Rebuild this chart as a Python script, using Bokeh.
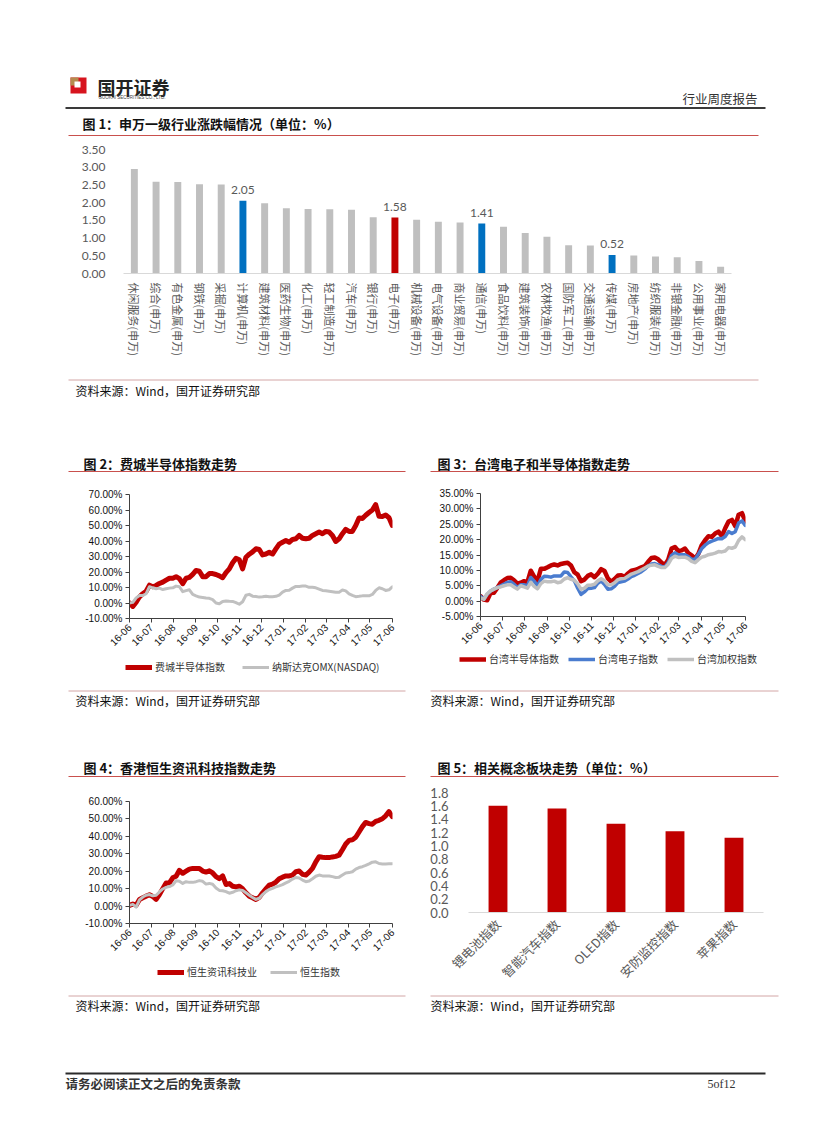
import math
import pandas as pd
from bokeh.plotting import figure
from bokeh.layouts import column, row
from bokeh.models import (Plot, Range1d, FactorRange, ColumnDataSource, LabelSet, Legend, LegendItem,
                          SingleIntervalTicker, MonthsTicker, PrintfTickFormatter,
                          NumeralTickFormatter, DatetimeTickFormatter)
from bokeh.core.properties import value
from bokeh.embed import file_html
from bokeh.resources import INLINE

CJK = "Noto Sans CJK SC"
NUM = "Lato"
ARIAL = "Liberation Sans"
FA = {"frame_align": False} if "frame_align" in Plot.properties() else {}

# ---------------- data ----------------
industries = ["休闲服务", "综合", "有色金属", "钢铁", "采掘", "计算机", "建筑材料", "医药生物", "化工",
              "轻工制造", "汽车", "银行", "电子", "机械设备", "电气设备", "商业贸易", "通信", "食品饮料",
              "建筑装饰", "农林牧渔", "国防军工", "交通运输", "传媒", "房地产", "纺织服装", "非银金融",
              "公用事业", "家用电器"]
industry_change = [2.95, 2.59, 2.58, 2.52, 2.51, 2.05, 1.98, 1.84, 1.82, 1.81, 1.80, 1.59, 1.58, 1.52,
                   1.46, 1.44, 1.41, 1.32, 1.14, 1.04, 0.80, 0.79, 0.52, 0.51, 0.48, 0.46, 0.35, 0.19]
blue_industries = ["计算机", "通信", "传媒"]
red_industries = ["电子"]

period_start = "2016-06-01"
period_end = "2017-06-01"

sox = [0, -2.2, 0.5, 4, 6, 7.6, 11.5, 10.5, 11.3, 12.6, 13.5, 14.8, 16, 16, 17, 15.7, 12.5, 16, 16.5, 18.5,
       21, 20.5, 17, 17, 19, 19, 18.4, 17.5, 16.3, 19.6, 22, 26, 28.8, 27.9, 22, 29.5, 31.5, 33, 35, 34.5,
       31, 31.6, 32.7, 31.6, 34.9, 38, 39.2, 40.3, 39.2, 41, 41.4, 43.6, 41.8, 41.4, 41.8, 43.6, 44.7, 45.8,
       44.7, 46.2, 45.8, 43.6, 39.7, 41.4, 44.7, 47.5, 46.2, 46.2, 50, 54.9, 54.5, 56.6, 58.4, 60, 63.5, 56,
       55.8, 56.8, 55, 50]
nasdaq = [0, 0.4, 3.3, 4.8, 4.8, 6, 10.5, 9.8, 9.2, 9.6, 8.7, 9.2, 9.6, 9.8, 10.9, 10.5, 7.3, 8, 8.5, 5.5,
          4.6, 3.8, 3.6, 3.2, 3, 2.2, 0, -0.5, 1, 1.3, 1.1, 1, 0.2, -0.8, 0.8, 5, 5.6, 4.4, 4.2, 3.8,
          4, 4.4, 4.1, 4.1, 4.3, 5.1, 7, 8.1, 8.2, 9.6, 10.7, 10.7, 10.9, 10.9, 10.1, 10.1, 9.8, 9, 8.1, 7.9,
          7.6, 7.3, 7, 7, 8.4, 7.8, 5.9, 4.9, 4.1, 4.3, 4.6, 4.6, 4.6, 5.5, 8.1, 9.8, 9.2, 8.1, 8.5, 10.5]

tw_semi = [1.6, 0.5, 0.3, 2.6, 2.7, 4.3, 6, 6.8, 7.5, 7.6, 6.8, 5.7, 6, 6.5, 6.2, 9.9, 8, 6.5, 10.5, 10.5,
           11, 11.6, 11.9, 11.6, 12.1, 12.3, 12.5, 11.6, 9.4, 8.6, 6.5, 7, 8.2, 8.7, 7.8, 8.9, 10.4, 9.8, 7.4, 6.3,
           7.2, 8.3, 8.4, 7.9, 9, 9.9, 10.1, 10.5, 11, 11.4, 12.8, 14, 14.2, 13.6, 12.5, 11.8, 13.5, 17.1, 17.6, 16.3,
           16.5, 17.1, 15.6, 14.9, 13.8, 15.4, 18.2, 19.8, 21.1, 20.9, 22, 22.6, 21.1, 23.7, 25.9, 26.4, 24.4, 28.1,
           28.6, 26]
tw_elec = [1.6, 0.6, 2.2, 3.3, 3.9, 4.4, 5, 5.5, 6.1, 6.3, 5.5, 4.4, 5.3, 5.3, 5, 7.7, 6.5, 5, 7, 8.1,
           8, 7.8, 8.2, 8.2, 8.2, 9.5, 9.3, 7.9, 6.6, 4.2, 2.2, 3, 4.1, 4.2, 4.4, 5.8, 6.5, 5.4, 3.9, 4,
           4.8, 6, 6.3, 6.5, 7.2, 8, 8.4, 9, 9.6, 10.4, 11.4, 12.1, 12.2, 11.8, 11.3, 11.1, 12.5, 14.9, 15.7, 15.1,
           15.1, 15.1, 14.5, 13.6, 13.6, 15.3, 17.1, 18.2, 19, 19.5, 19.9, 20.4, 20.3, 21, 22.6, 22, 22.6, 25.4,
           26.1, 24.6]
taiex = [1.1, 0.6, 2.4, 3.3, 3.9, 4.4, 4.6, 5, 5.3, 5.3, 4.6, 3.9, 5, 4.6, 4.2, 6.1, 4.8, 4, 5.7, 6.5,
         6.3, 6.3, 6.5, 6, 6.2, 7.2, 7.6, 7.1, 6.8, 5.6, 3.8, 4.2, 5.2, 5.2, 5.5, 6.6, 7.3, 6.6, 5.3, 5.3,
         6, 7, 7.3, 7.4, 8.1, 8.8, 9.2, 9.6, 10.2, 10.8, 11.4, 11.7, 11.8, 11.3, 10.9, 10.9, 12, 13.9, 14.6, 14.2,
         14.3, 14.3, 13.8, 12.9, 12.5, 13.5, 14.3, 14.6, 15.1, 15.3, 15.6, 16.1, 16, 16.3, 17.4, 17.2, 17.6, 19.7,
         20.9, 20]

hs_it = [0.4, 1.2, 0.5, 3.8, 4.8, 5.7, 6.5, 5.5, 3.8, 6.6, 10, 13.3, 13.3, 16.2, 17.1, 20.5, 18.8, 20, 21.2, 21.6,
         21.6, 21.6, 20.1, 19.5, 20.2, 19, 16.9, 15.7, 17.3, 12.4, 12.9, 11.4, 11, 11.4, 9.9, 7.6, 5.7, 4.8, 3.8, 5,
         7.6, 9.8, 12, 12.6, 13.8, 15.7, 16.6, 17.3, 17.3, 17.8, 19.7, 20.1, 18.2, 17.8, 19.5, 21.6, 25.4, 28.3, 28,
         27.8, 27.8, 28.2, 28.5, 29.2, 32.3, 35.6, 37.7, 38, 39.5, 42.5, 45.6, 48, 47.3, 47, 48.6, 49.2, 50.1, 51.8,
         54.2, 51.3]
hsi = [0.4, 1, -0.6, 3.5, 5.2, 6.2, 6.6, 5.9, 6.2, 8.1, 9.8, 10.7, 11.2, 12.1, 14.5, 14.3, 13, 14, 13.6, 13.6,
       14, 14.6, 14.2, 12.6, 13, 12.5, 10.4, 9, 8.8, 8.3, 7.4, 7.9, 8.8, 9.3, 9, 7.6, 6.2, 4.9, 3.8, 4.5,
       6.6, 8.3, 9.5, 10.2, 11, 11.6, 12.3, 13.3, 14.2, 15.5, 16.4, 16.1, 14.9, 14, 14.4, 15.7, 17.1, 17.8, 17.3,
       17.3, 17.3, 16.9, 16.4, 16.6, 17.8, 19, 19.2, 19.7, 21.2, 22.1, 22.6, 23.3, 24.2, 25.2, 25.4, 24.4, 24.2,
       24.2, 24.3, 24.3]

concepts = ["锂电池指数", "智能汽车指数", "OLED指数", "安防监控指数", "苹果指数"]
concept_change = [1.60, 1.56, 1.33, 1.22, 1.12]

# ---------------- styles ----------------
RED = "#c00000"
BLUE_BAR = "#0070c0"
GRAY_BAR = "#bfbfbf"
LINE_BLUE = "#4a7ccf"
LINE_GRAY = "#c0c0c0"
TITLE_RULE = "#c9504d"
BOTTOM_RULE = "#d3a6a6"
PAGE_W = 811


def strip(y0, y1, width=PAGE_W):
    p = figure(width=width, height=y1 - y0, x_range=Range1d(0, width), y_range=Range1d(y1, y0),
               output_backend="svg", toolbar_location=None, x_axis_type=None, y_axis_type=None,
               title=None, min_border=0, outline_line_color=None, **FA)
    return p


def txt(p, x, y, s, size, bold=False, color="#111111", align="left", font=CJK):
    p.text(x=[x], y=[y], text=[s], text_font=value(font), text_font_size=value(f"{size}px"),
           text_font_style="bold" if bold else "normal", text_color=color,
           text_align=align, text_baseline="middle")


def rule(p, x0, x1, y, color, w=1.0):
    p.segment(x0=[x0], x1=[x1], y0=[y], y1=[y], line_color=color, line_width=w)


# ---------------- header ----------------
hdr = strip(0, 140)
hdr.quad(left=[70], right=[86], top=[77], bottom=[93], fill_color="#d7141e", line_color=None)
hdr.quad(left=[70], right=[78], top=[77], bottom=[85], fill_color="#b58b4e", line_color=None)
hdr.quad(left=[74], right=[80], top=[81], bottom=[87], fill_color="#ffffff", line_color=None)
txt(hdr, 97, 86, "国开证券", 18, bold=True, color="#222222")
txt(hdr, 98, 96.5, "GUOKAI SECURITIES CO., LTD.", 4.5, color="#444444", font=ARIAL)
txt(hdr, 757, 98, "行业周度报告", 12.5, color="#333333", align="right")
rule(hdr, 65, 765, 107.5, "#3a3a3a", 2)
txt(hdr, 82, 123, "图 1：申万一级行业涨跌幅情况（单位：%）", 13, bold=True)
rule(hdr, 68, 758, 135, TITLE_RULE, 1)

# ---------------- chart 1 ----------------
cat_labels = [n + "(申万)" for n in industries]
colors1 = [RED if n in red_industries else BLUE_BAR if n in blue_industries else GRAY_BAR for n in industries]
labels1 = [f"{v:.2f}" if (n in red_industries or n in blue_industries) else ""
           for n, v in zip(industries, industry_change)]
src1 = ColumnDataSource(dict(cat=cat_labels, val=industry_change, color=colors1, label=labels1))

p1 = figure(width=PAGE_W, height=236, x_range=FactorRange(factors=cat_labels), y_range=Range1d(0, 3.5),
            output_backend="svg", toolbar_location=None, title=None,
            min_border_left=123, min_border_right=80, min_border_top=9, min_border_bottom=103,
            outline_line_color=None, **FA)
p1.vbar(x="cat", top="val", width=0.32, fill_color="color", line_color=None, source=src1)
p1.add_layout(LabelSet(x="cat", y="val", text="label", source=src1, y_offset=7, text_align="center",
                       text_baseline="bottom", text_font=value(NUM), text_font_size=value("12px"),
                       text_color="#595959"))
p1.xgrid.grid_line_color = None
p1.ygrid.grid_line_color = None
p1.yaxis.ticker = SingleIntervalTicker(interval=0.5)
p1.yaxis.formatter = NumeralTickFormatter(format="0.00")
p1.yaxis.axis_line_color = None
p1.yaxis.major_tick_line_color = None
p1.yaxis.minor_tick_line_color = None
p1.yaxis.major_label_standoff = 12
p1.yaxis.major_label_text_font = NUM
p1.yaxis.major_label_text_font_size = "12px"
p1.yaxis.major_label_text_color = "#595959"
p1.xaxis.axis_line_color = "#d9d9d9"
p1.xaxis.major_tick_line_color = None
p1.xaxis.major_label_orientation = "vertical"
p1.xaxis.major_label_standoff = 3
p1.xaxis.major_label_text_font = CJK
p1.xaxis.major_label_text_font_size = "11px"
p1.xaxis.major_label_text_color = "#595959"

# ---------------- strip 2 ----------------
s2 = strip(376, 482)
rule(s2, 68, 758, 379.5, BOTTOM_RULE, 1)
txt(s2, 75, 390, "资料来源：Wind，国开证券研究部", 12)
txt(s2, 83, 463, "图 2：费城半导体指数走势", 13, bold=True)
txt(s2, 437, 463, "图 3：台湾电子和半导体指数走势", 13, bold=True)
rule(s2, 68, 405, 471, TITLE_RULE, 1)
rule(s2, 430, 778, 471, TITLE_RULE, 1)


# ---------------- line charts ----------------
def line_chart(width, height, borders, yrange, yint, series, legend_height, legend_loc, legend_spacing):
    l, r, t, b = borders
    x0 = pd.Timestamp(period_start)
    x1 = pd.Timestamp(period_end) + pd.Timedelta(hours=6)
    p = figure(width=width, height=height, x_axis_type="datetime", x_range=Range1d(x0, x1),
               y_range=Range1d(*yrange), output_backend="svg", toolbar_location=None, title=None,
               min_border_left=l, min_border_right=r, min_border_top=t, min_border_bottom=b,
               outline_line_color=None, **FA)
    for name, vals, color, lw in series:
        dates = pd.date_range(period_start, period_end, periods=len(vals))
        p.line(dates, vals, line_color=color, line_width=lw, line_join="round", line_cap="round")
    p.xgrid.grid_line_color = None
    p.ygrid.grid_line_color = None
    p.yaxis.ticker = SingleIntervalTicker(interval=yint)
    p.yaxis.formatter = PrintfTickFormatter(format="%.2f%%")
    p.xaxis.ticker = MonthsTicker(months=list(range(12)))
    p.xaxis.formatter = DatetimeTickFormatter(months="%y-%m", days="%y-%m")
    p.xaxis.major_label_orientation = math.pi / 4
    for ax in (p.xaxis, p.yaxis):
        ax.axis_line_color = "#404040"
        ax.major_tick_line_color = "#404040"
        ax.major_tick_out = 4
        ax.major_tick_in = 0
        ax.minor_tick_line_color = None
        ax.major_label_text_font = ARIAL
        ax.major_label_text_font_size = "10px"
        ax.major_label_text_color = "#111111"
        ax.major_label_standoff = 3

    # legend strip beneath the chart; proxy lines sit outside its visible range
    lf = figure(width=width, height=legend_height, x_range=Range1d(0, 1), y_range=Range1d(0, 1),
                output_backend="svg", toolbar_location=None, x_axis_type=None, y_axis_type=None,
                title=None, min_border=0, outline_line_color=None, **FA)
    items = []
    for name, vals, color, lw in series:
        rr = lf.line(x=[5, 6], y=[5, 6], line_color=color, line_width=lw, line_cap="butt")
        items.append(LegendItem(label=name, renderers=[rr]))
    lg = Legend(items=items, location=legend_loc, orientation="horizontal", spacing=legend_spacing,
                padding=0, margin=0, glyph_width=27, glyph_height=12, label_height=12,
                label_standoff=3, label_text_font=CJK, label_text_font_size="10px",
                label_text_color="#333333", border_line_color=None, background_fill_alpha=0)
    lf.add_layout(lg)
    return column(p, lf)


c2 = line_chart(419, 170, (129, 27, 12, 34), (-10, 70), 10,
                [("费城半导体指数", sox, RED, 5), ("纳斯达克OMX(NASDAQ)", nasdaq, LINE_GRAY, 3)],
                36, (125, 14), 17)
c3 = line_chart(392, 168, (61, 66, 11, 34), (-5, 35), 5,
                [("台湾半导体指数", tw_semi, RED, 4.5), ("台湾电子指数", tw_elec, LINE_BLUE, 3.5),
                 ("台湾加权指数", taiex, LINE_GRAY, 3.5)],
                38, (40, 22), 9)

# ---------------- strip 3 ----------------
s3 = strip(688, 784)
rule(s3, 68, 405, 690.5, BOTTOM_RULE, 1)
rule(s3, 430, 778, 690.5, BOTTOM_RULE, 1)
txt(s3, 75, 700, "资料来源：Wind，国开证券研究部", 12)
txt(s3, 430, 700, "资料来源：Wind，国开证券研究部", 12)
txt(s3, 83, 767, "图 4：香港恒生资讯科技指数走势", 13, bold=True)
txt(s3, 437, 767, "图 5：相关概念板块走势（单位：%）", 13, bold=True)
rule(s3, 68, 405, 776, TITLE_RULE, 1)
rule(s3, 430, 778, 776, TITLE_RULE, 1)

c4 = line_chart(419, 174, (129, 27, 17, 35), (-10, 60), 10,
                [("恒生资讯科技业", hs_it, RED, 5), ("恒生指数", hsi, LINE_GRAY, 3)],
                32, (157, 11), 13)

# ---------------- chart 5 ----------------
src5 = ColumnDataSource(dict(cat=concepts, val=concept_change))
p5 = figure(width=392, height=206, x_range=FactorRange(factors=concepts), y_range=Range1d(0, 1.8),
            output_backend="svg", toolbar_location=None, title=None,
            min_border_left=49, min_border_right=48, min_border_top=8, min_border_bottom=68,
            outline_line_color=None, **FA)
p5.vbar(x="cat", top="val", width=0.32, fill_color=RED, line_color=None, source=src5)
p5.xgrid.grid_line_color = None
p5.ygrid.grid_line_color = None
p5.yaxis.ticker = SingleIntervalTicker(interval=0.2)
p5.yaxis.formatter = NumeralTickFormatter(format="0.0")
p5.yaxis.axis_line_color = None
p5.yaxis.major_tick_line_color = None
p5.yaxis.minor_tick_line_color = None
p5.yaxis.major_label_standoff = 14
p5.yaxis.major_label_text_font = NUM
p5.yaxis.major_label_text_font_size = "13px"
p5.yaxis.major_label_text_color = "#595959"
p5.xaxis.axis_line_color = "#d9d9d9"
p5.xaxis.major_tick_line_color = None
p5.xaxis.major_label_orientation = math.pi / 4
p5.xaxis.major_label_standoff = 3
p5.xaxis.major_label_text_font = CJK
p5.xaxis.major_label_text_font_size = "12.5px"
p5.xaxis.major_label_text_color = "#595959"

# ---------------- footer ----------------
ft = strip(990, 1106)
rule(ft, 68, 405, 995.5, BOTTOM_RULE, 1)
rule(ft, 430, 778, 995.5, BOTTOM_RULE, 1)
txt(ft, 75, 1005, "资料来源：Wind，国开证券研究部", 12)
txt(ft, 430, 1005, "资料来源：Wind，国开证券研究部", 12)
rule(ft, 65, 765, 1073, "#2a2a2a", 2)
txt(ft, 65, 1083, "请务必阅读正文之后的免责条款", 12.5, bold=True, color="#333333")
txt(ft, 735, 1083, "5of12", 12, color="#333333", align="right", font="Liberation Serif")

layout = column(hdr, p1, s2, row(c2, c3), s3, row(c4, p5), ft)

with open("out.html", "w") as f:
    f.write(file_html(layout, INLINE))
